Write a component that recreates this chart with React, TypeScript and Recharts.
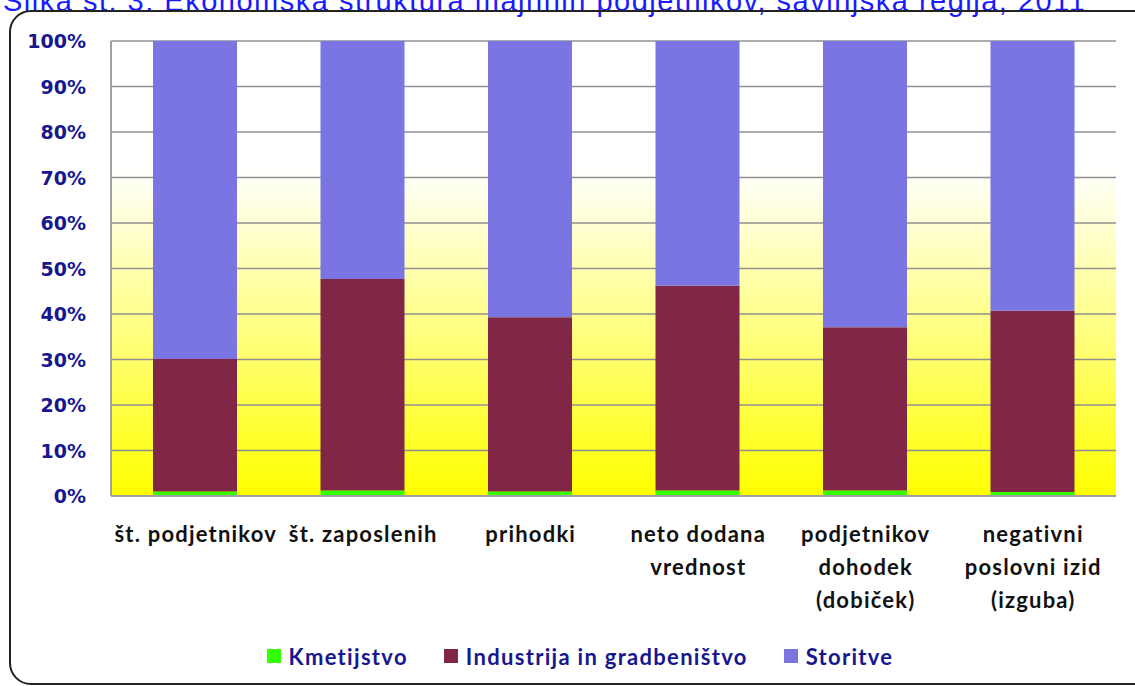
import React from "react";
import { BarChart, Bar, XAxis, YAxis, CartesianGrid, Legend } from "recharts";

const categories = [
  "št. podjetnikov",
  "št. zaposlenih",
  "prihodki",
  "neto dodana vrednost",
  "podjetnikov dohodek (dobiček)",
  "negativni poslovni izid (izguba)",
];
const categoryLines: string[][] = [
  ["št. podjetnikov"],
  ["št. zaposlenih"],
  ["prihodki"],
  ["neto dodana", "vrednost"],
  ["podjetnikov", "dohodek", "(dobiček)"],
  ["negativni", "poslovni izid", "(izguba)"],
];
const kmetijstvo = [1.0, 1.2, 1.0, 1.2, 1.2, 0.9];
const industrija = [29.1, 46.5, 38.3, 45.0, 35.9, 39.8];
const storitve = [69.9, 52.3, 60.7, 53.8, 62.9, 59.3];
const yTicks = [0, 10, 20, 30, 40, 50, 60, 70, 80, 90, 100];
const title = "Slika št. 3: Ekonomska struktura majhnih podjetnikov, savinjska regija, 2011";

const seriesNames = ["Kmetijstvo", "Industrija in gradbeništvo", "Storitve"];
const seriesColors = ["#33ff00", "#822648", "#7b74e3"];

const data = categories.map((c, i) => ({
  name: c,
  idx: i,
  k: kmetijstvo[i],
  ind: industrija[i],
  s: storitve[i],
}));

const XTick = (props: any) => {
  const { x, y, payload } = props;
  const lines = categoryLines[payload.index] || [String(payload.value)];
  return (
    <g>
      {lines.map((l, i) => (
        <text
          key={i}
          x={x + 1}
          y={y + 38 + i * 33}
          textAnchor="middle"
          fontFamily="Lato, 'Open Sans', sans-serif"
          fontWeight={700}
          fontSize={22}
          letterSpacing={1.2}
          fill="#111"
        >
          {l}
        </text>
      ))}
    </g>
  );
};

const YTick = (props: any) => {
  const { x, y, payload } = props;
  return (
    <text
      x={x - 17}
      y={y + 7}
      textAnchor="end"
      fontFamily="'DejaVu Sans', Verdana, sans-serif"
      fontWeight={700}
      fontSize={19}
      fill="#17178f"
    >
      {payload.value}%
    </text>
  );
};

const LegendContent = () => (
  <div
    style={{
      display: "flex",
      justifyContent: "center",
      alignItems: "center",
      height: 60,
      paddingLeft: 44,
      fontFamily: "Lato, 'Open Sans', sans-serif",
      fontWeight: 700,
      fontSize: 22,
      letterSpacing: 1.3,
      color: "#17178f",
    }}
  >
    {seriesNames.map((n, i) => (
      <div key={n} style={{ display: "flex", alignItems: "center", marginLeft: i === 0 ? 0 : 36 }}>
        <div style={{ width: 14, height: 14, background: seriesColors[i], marginRight: 8 }} />
        <span>{n}</span>
      </div>
    ))}
  </div>
);

export default function App() {
  return (
    <div style={{ position: "absolute", left: 0, top: 0, width: 1135, height: 686, overflow: "hidden", background: "#fff" }}>
      <div
        style={{
          position: "absolute",
          left: 3,
          top: -13,
          fontFamily: "'Liberation Sans', Arial, sans-serif",
          fontSize: 29,
          lineHeight: "29px",
          letterSpacing: 1.5,
          color: "#1a1aff",
          whiteSpace: "nowrap",
        }}
      >
        {title}
      </div>
      <div
        style={{
          position: "absolute",
          left: 9,
          top: 10,
          width: 1160,
          height: 675,
          border: "2px solid #222",
          borderRadius: 22,
          boxSizing: "border-box",
        }}
      />
      <div style={{ position: "absolute", left: 0, top: 0 }}>
        <BarChart
          width={1135}
          height={686}
          data={data}
          margin={{ top: 41, right: 19, left: 0, bottom: 0 }}
          barSize={84}
        >
          <defs>
            <linearGradient id="bgGrad" x1="0" y1="0" x2="0" y2="1">
              <stop offset="0" stopColor="#ffffff" />
              <stop offset="0.28" stopColor="#ffffff" />
              <stop offset="1" stopColor="#ffff00" />
            </linearGradient>
          </defs>
          <CartesianGrid
            vertical={false}
            stroke="#909090"
            strokeWidth={1.5}
            fill="url(#bgGrad)"
            fillOpacity={1}
          />
          <XAxis
            dataKey="name"
            height={130}
            tickLine={false}
            axisLine={{ stroke: "#a0a0a0", strokeWidth: 2 }}
            tick={<XTick />}
            interval={0}
          />
          <YAxis
            width={111}
            domain={[0, 100]}
            ticks={yTicks}
            tickLine={false}
            axisLine={{ stroke: "#a0a0a0", strokeWidth: 2 }}
            tick={<YTick />}
            allowDataOverflow
          />
          <Legend
            verticalAlign="bottom"
            height={60}
            content={<LegendContent />}
          />
          <Bar dataKey="k" name={seriesNames[0]} stackId="a" fill={seriesColors[0]} isAnimationActive={false} />
          <Bar dataKey="ind" name={seriesNames[1]} stackId="a" fill={seriesColors[1]} isAnimationActive={false} />
          <Bar dataKey="s" name={seriesNames[2]} stackId="a" fill={seriesColors[2]} isAnimationActive={false} />
        </BarChart>
      </div>
    </div>
  );
}
